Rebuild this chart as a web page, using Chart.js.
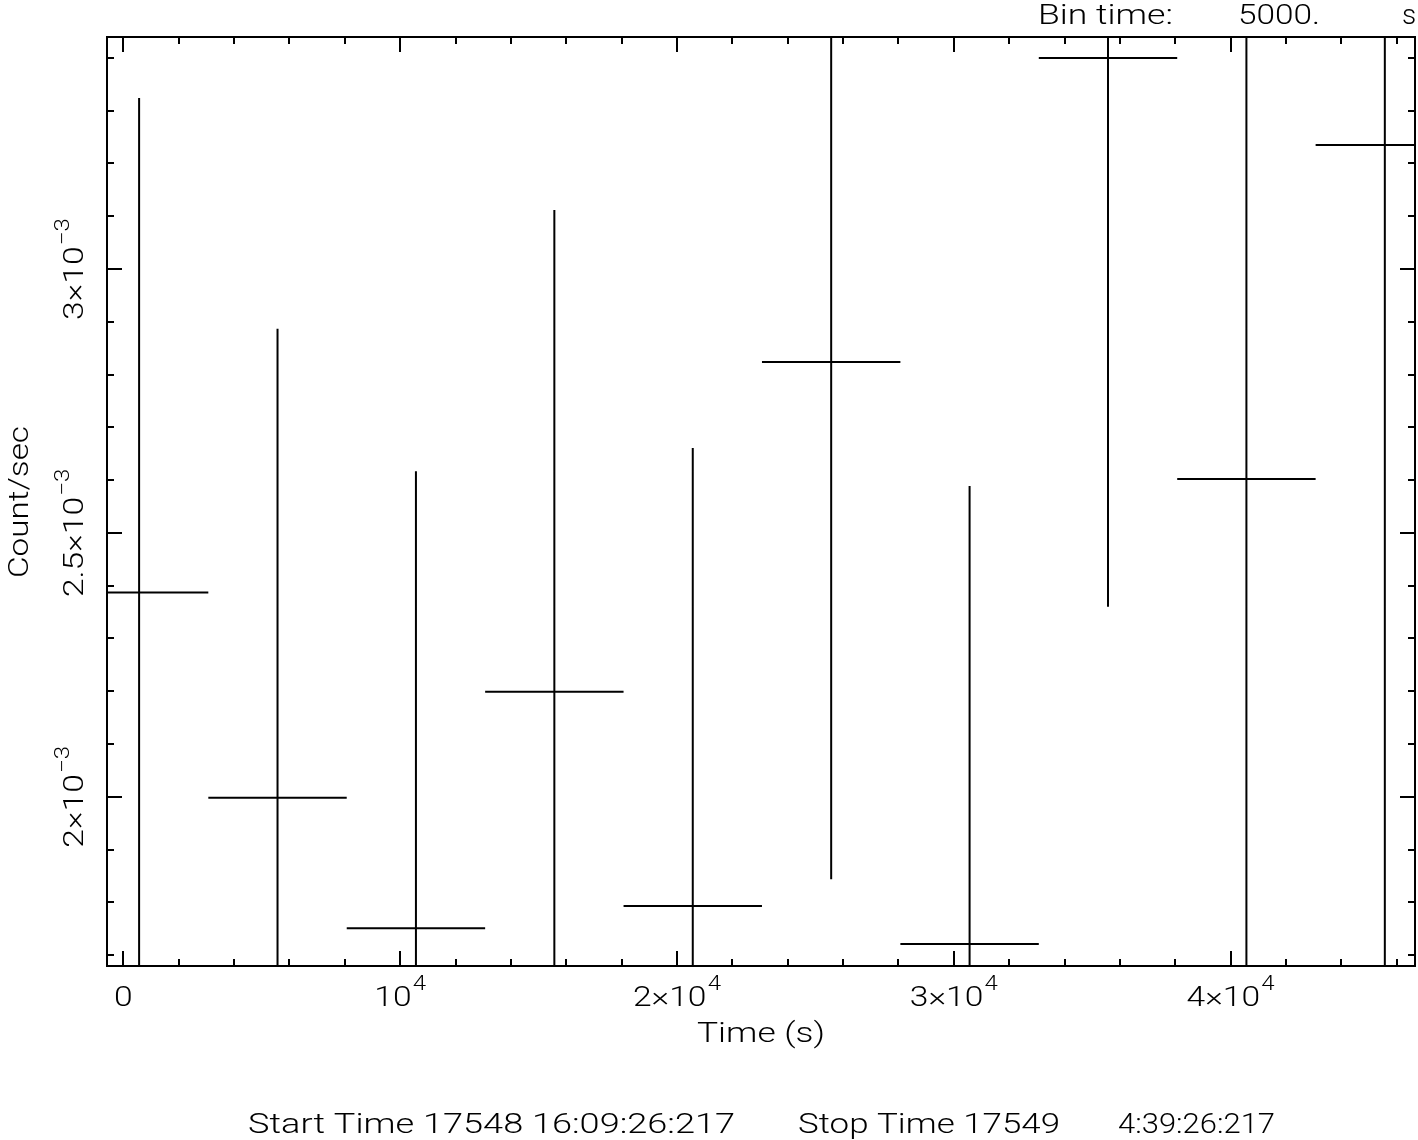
<!DOCTYPE html>
<html><head><meta charset="utf-8">
<script src="https://cdn.jsdelivr.net/npm/chart.js@4.4.1/dist/chart.umd.min.js"></script>
<style>html,body{margin:0;padding:0;background:#fff;}canvas{display:block;}</style>
</head><body>
<canvas id="c" width="1418" height="1140"></canvas>
<script>
// ---- data ----
const binCenters = [570, 5570, 10570, 15570, 20570, 25570, 30570, 35570, 40570, 45570];
const binHalfWidth = 2500;
const rates = [2.387e-3, 1.998e-3, 1.751e-3, 2.199e-3, 1.793e-3, 2.824e-3, 1.721e-3, 3.400e-3, 2.602e-3, 3.235e-3];
const rateErrors = [0.937e-3, 0.889e-3, 0.866e-3, 0.913e-3, 0.868e-3, 0.980e-3, 0.868e-3, 1.040e-3, 0.950e-3, 1.600e-3];
const xRange = [-590, 46660];
const yRange = [1.6794e-3, 3.4396e-3];
const xMajorTicks = [0, 10000, 20000, 30000, 40000];
const xTickBase = ['0', '10', '2×10', '3×10', '4×10'];
const xTickSup = ['', '4', '4', '4', '4'];
const yMajorTicks = [2e-3, 2.5e-3, 3e-3];
const yTickBase = ['2×10', '2.5×10', '3×10'];
const yTickSup = ['−3', '−3', '−3'];
const xMinorStep = 2000;
const yMinorStep = 1e-4;
const xTitle = 'Time (s)';
const yTitle = 'Count/sec';
const binLabel = ['Bin time:', '5000.', 's'];
const footer = ['Start Time 17548 16:09:26:217', 'Stop Time 17549', '4:39:26:217'];

// ---- build segments ----
const hSeg = [], vSeg = [];
binCenters.forEach((t, i) => {
  hSeg.push({x: t - binHalfWidth, y: rates[i]}, {x: t + binHalfWidth, y: rates[i]}, {x: t, y: null});
  vSeg.push({x: t, y: rates[i] - rateErrors[i]}, {x: t, y: rates[i] + rateErrors[i]}, {x: t, y: null});
});

const FONT = "300 {S}px Roboto, 'DejaVu Sans', sans-serif";
function f(size) { return FONT.replace('{S}', size); }
function fitText(ctx, text, x, y, w, size) {
  ctx.font = f(size);
  const m = ctx.measureText(text).width;
  ctx.save();
  ctx.translate(x, y);
  ctx.scale(w / m, 1);
  ctx.textAlign = 'left';
  ctx.textBaseline = 'alphabetic';
  ctx.fillText(text, 0, 0);
  ctx.restore();
}
const LABEL_STRETCH = 1.2;
function supLabel(ctx, base, sup, raise) {
  ctx.font = f(28);
  const wb = ctx.measureText(base).width;
  ctx.font = f(20);
  const ws = sup ? ctx.measureText(sup).width + 1 : 0;
  ctx.save();
  ctx.scale(LABEL_STRETCH, 1);
  const start = -(wb + ws) / 2;
  ctx.textAlign = 'left';
  ctx.textBaseline = 'alphabetic';
  ctx.font = f(28);
  ctx.fillText(base, start, 0);
  if (sup) {
    ctx.font = f(20);
    ctx.fillText(sup, start + wb + 1, -raise);
  }
  ctx.restore();
}

const framePlugin = {
  id: 'qdpFrame',
  afterDatasetsDraw(chart) {
    const ctx = chart.ctx;
    const a = chart.chartArea;
    const xs = chart.scales.x, ys = chart.scales.y;
    ctx.save();
    ctx.strokeStyle = '#000';
    ctx.fillStyle = '#000';
    ctx.lineWidth = 2;
    ctx.lineCap = 'butt';
    ctx.strokeRect(a.left, a.top, a.right - a.left, a.bottom - a.top);
    ctx.beginPath();
    // x ticks
    for (let v = Math.ceil(xRange[0] / xMinorStep) * xMinorStep; v <= xRange[1]; v += xMinorStep) {
      const px = Math.round(xs.getPixelForValue(v));
      const len = xMajorTicks.includes(v) ? 15 : 7;
      ctx.moveTo(px, a.bottom); ctx.lineTo(px, a.bottom - len);
      ctx.moveTo(px, a.top); ctx.lineTo(px, a.top + len);
    }
    // y ticks
    const n0 = Math.ceil(yRange[0] / yMinorStep - 1e-6), n1 = Math.floor(yRange[1] / yMinorStep + 1e-6);
    for (let n = n0; n <= n1; n++) {
      const v = n * yMinorStep;
      const py = Math.round(ys.getPixelForValue(v));
      const major = yMajorTicks.some(t => Math.abs(t - v) < 1e-9);
      const len = major ? 15 : 7;
      ctx.moveTo(a.left, py); ctx.lineTo(a.left + len, py);
      ctx.moveTo(a.right, py); ctx.lineTo(a.right - len, py);
    }
    ctx.stroke();
    // x tick labels
    xMajorTicks.forEach((v, i) => {
      ctx.save();
      ctx.translate(xs.getPixelForValue(v), 1006);
      supLabel(ctx, xTickBase[i], xTickSup[i], 16);
      ctx.restore();
    });
    // y tick labels (rotated)
    yMajorTicks.forEach((v, i) => {
      ctx.save();
      ctx.translate(83, ys.getPixelForValue(v));
      ctx.rotate(-Math.PI / 2);
      supLabel(ctx, yTickBase[i], yTickSup[i], 14);
      ctx.restore();
    });
    // titles
    fitText(ctx, xTitle, 697, 1042, 128, 28);
    ctx.save();
    ctx.translate(28, 578);
    ctx.rotate(-Math.PI / 2);
    fitText(ctx, yTitle, 0, 0, 152, 28);
    ctx.restore();
    fitText(ctx, binLabel[0], 1038, 24, 135, 28);
    fitText(ctx, binLabel[1], 1238, 24, 82, 28);
    ctx.font = f(28);
    ctx.textAlign = 'left';
    ctx.fillText(binLabel[2], 1402, 24);
    fitText(ctx, footer[0], 248, 1133, 487, 28);
    fitText(ctx, footer[1], 798, 1133, 262, 28);
    fitText(ctx, footer[2], 1118, 1133, 157, 28);
    ctx.restore();
  }
};

const lineStyle = {showLine: true, borderColor: '#000', backgroundColor: '#000', borderWidth: 2,
  pointRadius: 0, pointHoverRadius: 0, spanGaps: false, clip: 0, borderCapStyle: 'butt'};

new Chart(document.getElementById('c'), {
  type: 'scatter',
  data: {datasets: [
    Object.assign({label: 'rate', data: hSeg}, lineStyle),
    Object.assign({label: 'error', data: vSeg}, lineStyle)
  ]},
  options: {
    responsive: false, animation: false, devicePixelRatio: 1,
    layout: {padding: {left: 107, right: 3, top: 37, bottom: 174}},
    plugins: {legend: {display: false}, tooltip: {enabled: false}},
    events: [],
    scales: {
      x: {type: 'linear', min: xRange[0], max: xRange[1], display: false},
      y: {type: 'linear', min: yRange[0], max: yRange[1], display: false}
    }
  },
  plugins: [framePlugin]
});
</script>
</body></html>
